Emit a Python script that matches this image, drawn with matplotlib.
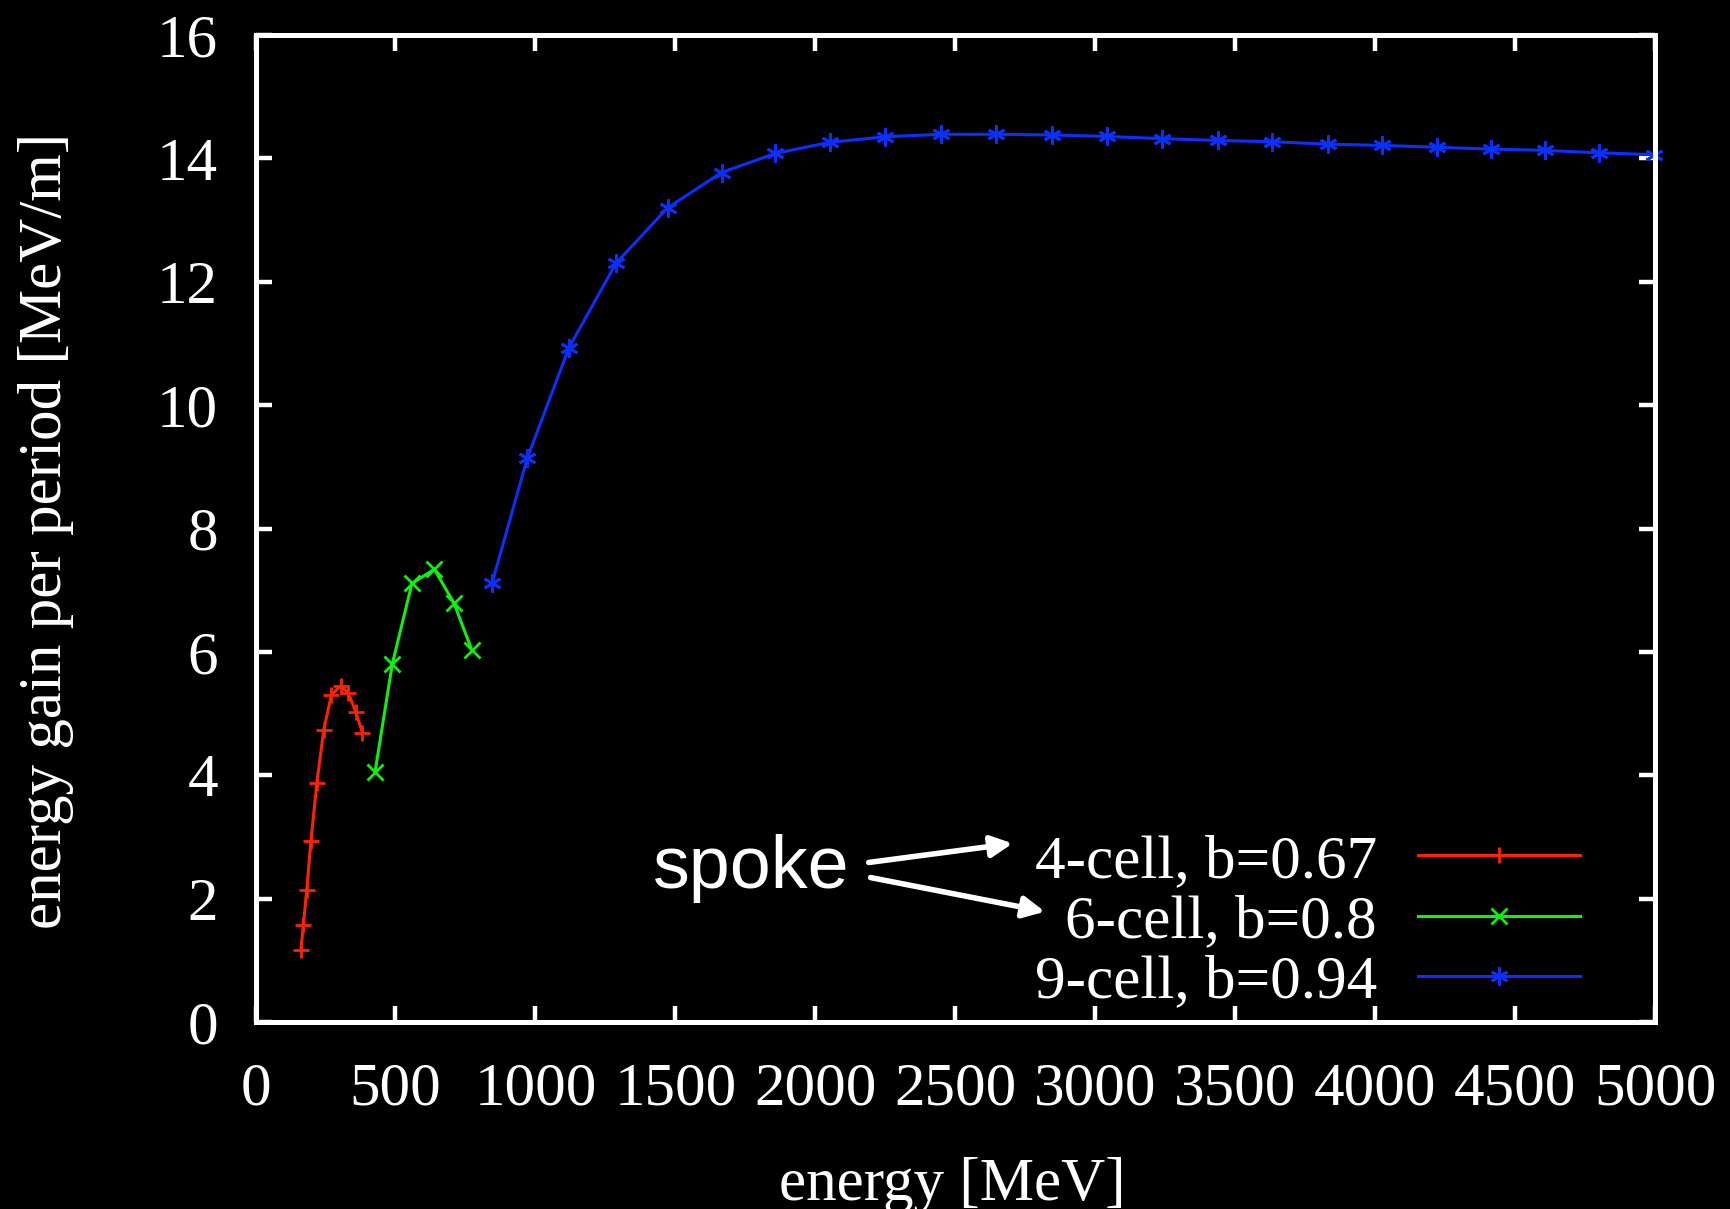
import matplotlib.pyplot as plt

plt.rcParams['font.family'] = ['Liberation Serif', 'DejaVu Serif']

# 4-cell, b=0.67 (spoke)
e_4cell = [162, 171, 183, 198, 219, 244, 271, 304, 331, 358, 382]
g_4cell = [1.16, 1.57, 2.14, 2.93, 3.87, 4.74, 5.30, 5.45, 5.34, 5.03, 4.69]

# 6-cell, b=0.8 (spoke)
e_6cell = [427, 489, 559, 639, 709, 773]
g_6cell = [4.05, 5.81, 7.11, 7.34, 6.79, 6.03]

# 9-cell, b=0.94
e_9cell = [845, 971, 1120, 1288, 1473, 1665, 1857, 2052, 2250, 2448, 2647, 2845,
           3042, 3240, 3437, 3633, 3830, 4025, 4220, 4414, 4607, 4800, 4997]
g_9cell = [7.11, 9.14, 10.93, 12.30, 13.20, 13.77, 14.08, 14.26, 14.35, 14.39, 14.39, 14.38,
           14.355, 14.32, 14.29, 14.27, 14.23, 14.21, 14.18, 14.15, 14.13, 14.09, 14.06]

labels = ['4-cell, b=0.67', '6-cell, b=0.8', '9-cell, b=0.94']
x_ticks = [0, 500, 1000, 1500, 2000, 2500, 3000, 3500, 4000, 4500, 5000]
y_ticks = [0, 2, 4, 6, 8, 10, 12, 14, 16]

W, H = 1730, 1209
fig = plt.figure(figsize=(W / 100, H / 100), dpi=100, facecolor='black')
ax = fig.add_axes([255.5 / W, 1 - 1022 / H, (1655 - 255.5) / W, (1022 - 35) / H])
ax.set_facecolor('black')

ax.plot(e_4cell, g_4cell, color='#ff2200', lw=2.2, marker='+', ms=12, mew=2,
        label=labels[0], clip_on=False)
ax.plot(e_6cell, g_6cell, color='#11ee11', lw=2.2, marker='x', ms=11, mew=2,
        label=labels[1], clip_on=False)
ax.plot(e_9cell, g_9cell, color='#0a30ff', lw=2.2, marker=(6, 2, 0), ms=13, mew=2,
        label=labels[2], clip_on=False)

ax.set_xlim(0, 5000)
ax.set_ylim(0, 16)
ax.set_xticks(x_ticks)
ax.set_yticks(y_ticks)
for s in ax.spines.values():
    s.set_color('white')
    s.set_linewidth(3.6)
ax.tick_params(which='both', direction='in', top=True, right=True, length=11.5,
               width=3.2, color='white', labelcolor='white', labelsize=44)
ax.tick_params(axis='x', pad=29)
ax.tick_params(axis='y', pad=27)

fig.text(46 / W, 1 - 531 / H, 'energy gain per period [MeV/m]', rotation=90,
         ha='center', va='center', color='white', fontsize=44)
fig.text(952 / W, 1 - 1157 / H, 'energy [MeV]', ha='center', va='top',
         color='white', fontsize=44)

leg = ax.legend(loc='center right', bbox_to_anchor=(1580 / W, 1 - 922 / H),
                bbox_transform=fig.transFigure, frameon=False, markerfirst=False,
                numpoints=1, handlelength=2.65, handletextpad=0.67,
                labelspacing=0.07, borderpad=0, borderaxespad=0, fontsize=44,
                labelcolor='white')

# "spoke" annotation with arrows to the first two legend entries
ax.text(1420, 2.17, 'spoke', family='Liberation Sans', fontsize=53, color='white',
        ha='left', va='baseline')
ax.annotate('', xy=(2715, 2.90), xytext=(2181, 2.58),
            arrowprops=dict(arrowstyle='-|>', color='white', lw=4, mutation_scale=32))
ax.annotate('', xy=(2830, 1.78), xytext=(2188, 2.35),
            arrowprops=dict(arrowstyle='-|>', color='white', lw=4, mutation_scale=32))

fig.savefig('out.png', dpi=100, facecolor='black')
